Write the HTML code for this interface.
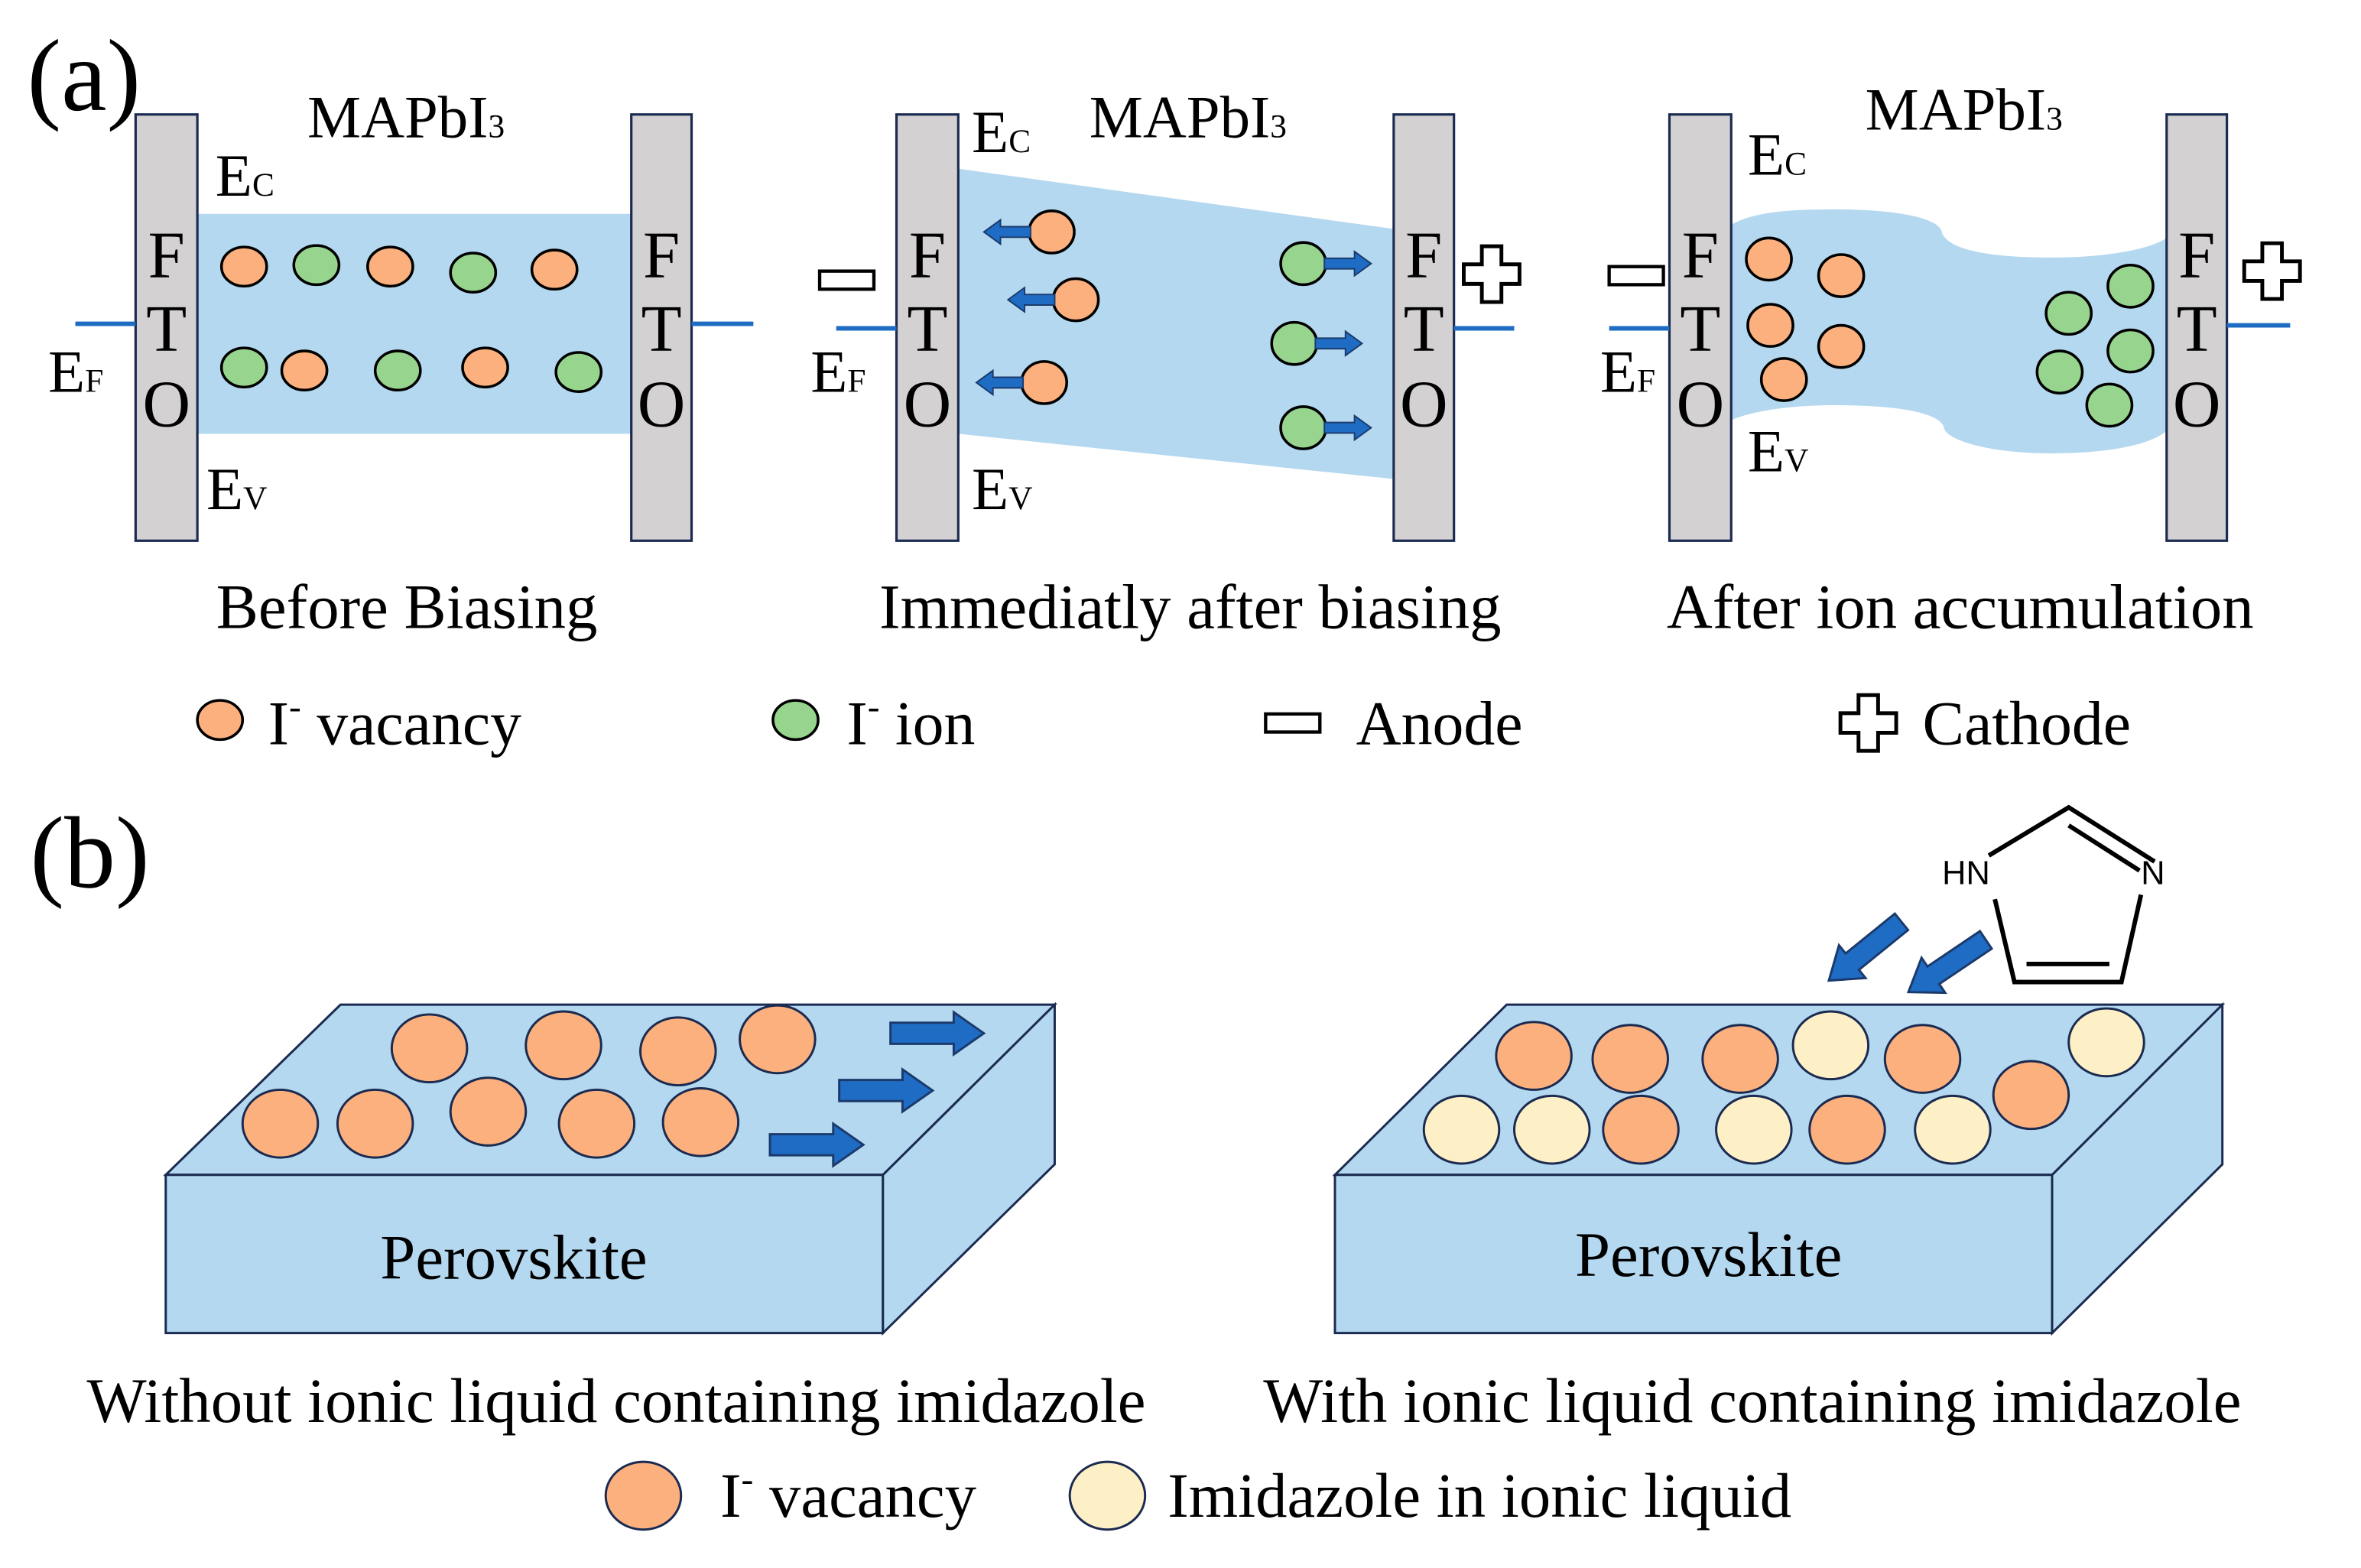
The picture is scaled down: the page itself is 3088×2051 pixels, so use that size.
<!DOCTYPE html>
<html><head><meta charset="utf-8"><style>
html,body{margin:0;padding:0;background:#fff}
svg{display:block}
text{font-family:"Liberation Serif",serif;fill:#000}
</style></head><body>
<svg width="3088" height="2051" viewBox="0 0 1567 1041" preserveAspectRatio="none" xmlns="http://www.w3.org/2000/svg">
<defs>
<g id="plus"><path d="M-6.5,-18.5 H6.5 V-6.5 H18.5 V6.5 H6.5 V18.5 H-6.5 V6.5 H-18.5 V-6.5 H-6.5 Z" fill="#fff" stroke="#000" stroke-width="2.5"/></g>
<g id="minus"><rect x="-18" y="-6" width="36" height="12" fill="#fff" stroke="#000" stroke-width="2.2"/></g>
<g id="sarrR"><path d="M0,-3.5 H20 V-8 L31,0 L20,8 V3.5 H0 Z" fill="#1e6cc4" stroke="#1b3a6b" stroke-width="1"/></g>
<g id="bigR"><path d="M0,-7 H42 V-14 L62,0 L42,14 V7 H0 Z" fill="#1e6cc4" stroke="#1b3a6b" stroke-width="1.5"/></g>
</defs>
<g stroke="#1a2a50" stroke-width="1.6">
<rect x="131" y="142" width="288" height="146" fill="#b4d8ef" stroke="none"/>
<rect x="90" y="76" width="41" height="283" fill="#d3d1d1"/>
<rect x="419" y="76" width="40" height="283" fill="#d3d1d1"/>
<polygon points="636,112 925,152 925,318 636,288" fill="#b4d8ef" stroke="none"/>
<rect x="595" y="76" width="41" height="283" fill="#d3d1d1"/>
<rect x="925" y="76" width="40" height="283" fill="#d3d1d1"/>
<path d="M1145,152 C1160,140 1190,139 1218,139 C1260,139 1289,145 1289,155 C1295,168 1330,171 1362,171 C1400,171 1428,165 1438,158 L1438,286 C1428,295 1400,301 1362,301 C1320,301 1290,292 1290,283 C1285,272 1250,269 1218,269 C1180,269 1155,275 1145,281 Z" fill="#b4d8ef" stroke="none"/>
<rect x="1108" y="76" width="41" height="283" fill="#d3d1d1"/>
<rect x="1438" y="76" width="40" height="283" fill="#d3d1d1"/>
</g>
<g stroke="#1e6cc4" stroke-width="3">
<line x1="50" y1="215" x2="90" y2="215"/><line x1="459" y1="215" x2="500" y2="215"/>
<line x1="555" y1="218" x2="595" y2="218"/><line x1="965" y1="218" x2="1005" y2="218"/>
<line x1="1068" y1="218" x2="1108" y2="218"/><line x1="1478" y1="216" x2="1520" y2="216"/>
</g>
<g font-size="44" text-anchor="middle">
<text x="110.5" y="184">F</text><text x="110.5" y="233">T</text><text x="110.5" y="283">O</text>
<text x="439" y="184">F</text><text x="439" y="233">T</text><text x="439" y="283">O</text>
<text x="615.5" y="184">F</text><text x="615.5" y="233">T</text><text x="615.5" y="283">O</text>
<text x="945" y="184">F</text><text x="945" y="233">T</text><text x="945" y="283">O</text>
<text x="1128.5" y="184">F</text><text x="1128.5" y="233">T</text><text x="1128.5" y="283">O</text>
<text x="1458" y="184">F</text><text x="1458" y="233">T</text><text x="1458" y="283">O</text>
</g>
<g font-size="40">
<text x="204" y="91">MAPbI<tspan font-size="22">3</tspan></text>
<text x="723" y="91">MAPbI<tspan font-size="22">3</tspan></text>
<text x="1238" y="86">MAPbI<tspan font-size="22">3</tspan></text>
<text x="143" y="130">E<tspan font-size="22">C</tspan></text>
<text x="137" y="338">E<tspan font-size="22">V</tspan></text>
<text x="32" y="260">E<tspan font-size="22">F</tspan></text>
<text x="645" y="101">E<tspan font-size="22">C</tspan></text>
<text x="645" y="338">E<tspan font-size="22">V</tspan></text>
<text x="538" y="260">E<tspan font-size="22">F</tspan></text>
<text x="1160" y="116">E<tspan font-size="22">C</tspan></text>
<text x="1160" y="313">E<tspan font-size="22">V</tspan></text>
<text x="1062" y="260">E<tspan font-size="22">F</tspan></text>
</g>
<text x="18" y="73" font-size="68">(a)</text>
<text x="20" y="589" font-size="68">(b)</text>
<g stroke="#000" stroke-width="1.8">
<g fill="#fbb07e">
<ellipse cx="162" cy="177" rx="15" ry="13"/><ellipse cx="259" cy="177" rx="15" ry="13"/><ellipse cx="368" cy="179" rx="15" ry="13"/>
<ellipse cx="202" cy="246" rx="15" ry="13"/><ellipse cx="322" cy="244" rx="15" ry="13"/>
<ellipse cx="698" cy="154" rx="15" ry="14"/><ellipse cx="714" cy="199" rx="15" ry="14"/><ellipse cx="693" cy="254" rx="15" ry="14"/>
<ellipse cx="1174" cy="172" rx="15" ry="14"/><ellipse cx="1222" cy="183" rx="15" ry="14"/><ellipse cx="1175" cy="216" rx="15" ry="14"/><ellipse cx="1222" cy="230" rx="15" ry="14"/><ellipse cx="1184" cy="252" rx="15" ry="14"/>
<ellipse cx="146" cy="478" rx="15" ry="13"/>
</g>
<g fill="#97d48d">
<ellipse cx="210" cy="176" rx="15" ry="13"/><ellipse cx="314" cy="181" rx="15" ry="13"/>
<ellipse cx="162" cy="244" rx="15" ry="13"/><ellipse cx="264" cy="246" rx="15" ry="13"/><ellipse cx="384" cy="247" rx="15" ry="13"/>
<ellipse cx="865" cy="175" rx="15" ry="14"/><ellipse cx="859" cy="228" rx="15" ry="14"/><ellipse cx="865" cy="284" rx="15" ry="14"/>
<ellipse cx="1414" cy="190" rx="15" ry="14"/><ellipse cx="1373" cy="208" rx="15" ry="14"/><ellipse cx="1414" cy="233" rx="15" ry="14"/><ellipse cx="1367" cy="247" rx="15" ry="14"/><ellipse cx="1400" cy="269" rx="15" ry="14"/>
<ellipse cx="528" cy="478" rx="15" ry="13"/>
</g>
</g>
<use href="#sarrR" transform="translate(684,154) scale(-1,1)"/>
<use href="#sarrR" transform="translate(700,199) scale(-1,1)"/>
<use href="#sarrR" transform="translate(679,254) scale(-1,1)"/>
<use href="#sarrR" transform="translate(879,175)"/>
<use href="#sarrR" transform="translate(873,228)"/>
<use href="#sarrR" transform="translate(879,284)"/>
<use href="#minus" transform="translate(562,186)"/>
<use href="#minus" transform="translate(1086,183)"/>
<use href="#minus" transform="translate(858,480)"/>
<use href="#plus" transform="translate(990,182)"/>
<use href="#plus" transform="translate(1508,180)"/>
<use href="#plus" transform="translate(1240,480)"/>
<g font-size="42" text-anchor="middle">
<text x="270" y="417">Before Biasing</text>
<text x="790" y="417">Immediatly after biasing</text>
<text x="1301" y="417">After ion accumulation</text>
</g>
<g font-size="41.5">
<text x="178" y="494">I<tspan font-size="24" dy="-17">-</tspan><tspan dy="17"> vacancy</tspan></text>
<text x="562" y="494">I<tspan font-size="24" dy="-17">-</tspan><tspan dy="17"> ion</tspan></text>
<text x="900" y="494">Anode</text>
<text x="1276" y="494">Cathode</text>
</g>
<g stroke="#1a2a50" stroke-width="1.5" fill="#b4d8ef">
<polygon points="110,780 586,780 700,667 226,667"/>
<rect x="110" y="780" width="476" height="105"/>
<polygon points="586,780 700,667 700,773 586,885"/>
<polygon points="886,780 1362,780 1475,667 1000,667"/>
<rect x="886" y="780" width="476" height="105"/>
<polygon points="1362,780 1475,667 1475,773 1362,885"/>
</g>
<g stroke="#1a2a50" stroke-width="1.5">
<g fill="#fbb07e">
<ellipse cx="285" cy="696" rx="25" ry="22.5"/><ellipse cx="374" cy="694" rx="25" ry="22.5"/><ellipse cx="450" cy="698" rx="25" ry="22.5"/><ellipse cx="516" cy="690" rx="25" ry="22.5"/>
<ellipse cx="186" cy="746" rx="25" ry="22.5"/><ellipse cx="249" cy="746" rx="25" ry="22.5"/><ellipse cx="324" cy="738" rx="25" ry="22.5"/><ellipse cx="396" cy="746" rx="25" ry="22.5"/><ellipse cx="465" cy="745" rx="25" ry="22.5"/>
<ellipse cx="1018" cy="701" rx="25" ry="22.5"/><ellipse cx="1082" cy="703" rx="25" ry="22.5"/><ellipse cx="1155" cy="703" rx="25" ry="22.5"/><ellipse cx="1276" cy="703" rx="25" ry="22.5"/><ellipse cx="1348" cy="727" rx="25" ry="22.5"/>
<ellipse cx="1089" cy="750" rx="25" ry="22.5"/><ellipse cx="1226" cy="750" rx="25" ry="22.5"/>
<ellipse cx="427" cy="993" rx="25" ry="22.5"/>
</g>
<g fill="#fdefc6">
<ellipse cx="1215" cy="694" rx="25" ry="22.5"/><ellipse cx="1398" cy="692" rx="25" ry="22.5"/>
<ellipse cx="970" cy="750" rx="25" ry="22.5"/><ellipse cx="1030" cy="750" rx="25" ry="22.5"/><ellipse cx="1164" cy="750" rx="25" ry="22.5"/><ellipse cx="1296" cy="750" rx="25" ry="22.5"/>
<ellipse cx="735" cy="993" rx="25" ry="22.5"/>
</g>
</g>
<use href="#bigR" transform="translate(591,686)"/>
<use href="#bigR" transform="translate(557,724)"/>
<use href="#bigR" transform="translate(511,760)"/>
<use href="#bigR" transform="translate(1262,612) rotate(141)"/>
<use href="#bigR" transform="translate(1318,624) rotate(146)"/>
<g stroke="#000" stroke-width="3" fill="none" stroke-linecap="butt">
<polyline points="1320,568 1373,536 1430,572"/>
<line x1="1373" y1="548" x2="1420" y2="578"/>
<polyline points="1324,597 1337,652 1408,652 1421,594"/>
<line x1="1345" y1="640" x2="1400" y2="640"/>
</g>
<text x="1289" y="587" font-size="22" style="font-family:'Liberation Sans',sans-serif">HN</text>
<text x="1421" y="587" font-size="22" style="font-family:'Liberation Sans',sans-serif">N</text>
<g font-size="42" text-anchor="middle">
<text x="341" y="849">Perovskite</text>
<text x="1134" y="847">Perovskite</text>
<text x="409" y="944">Without ionic liquid containing imidazole</text>
<text x="1163" y="944">With ionic liquid containing imidazole</text>
</g>
<g font-size="42">
<text x="478" y="1007">I<tspan font-size="24" dy="-17">-</tspan><tspan dy="17"> vacancy</tspan></text>
<text x="775" y="1007">Imidazole in ionic liquid</text>
</g>
</svg>
</body></html>
